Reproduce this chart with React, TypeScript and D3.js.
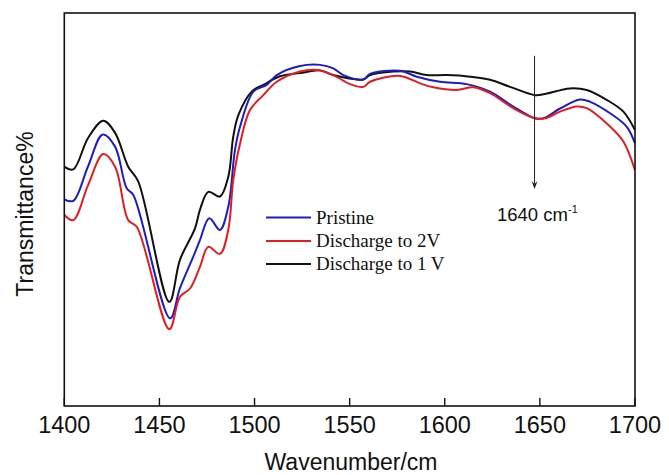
import React from "react";
import * as d3 from "d3";

// ---- data (wavenumber cm^-1, transmittance arbitrary units) ----
const blackWn = [1400, 1404.7, 1412.5, 1420.5, 1426.7, 1433.6, 1438.9, 1455.2, 1460.8, 1468.7, 1471.3, 1475.7, 1481.8, 1486.2, 1488.8, 1491.5, 1498.5, 1504.6, 1513.4, 1523.9, 1534.4, 1541.3, 1557.2, 1560.7, 1573.0, 1581.7, 1590.5, 1601.0, 1613.3, 1623.8, 1634.3, 1647.5, 1651.8, 1665.8, 1674.6, 1685.1, 1693.9, 1700];
const blackT = [60.9, 60.2, 68.2, 72.6, 69.5, 60.9, 57.1, 26.5, 37.2, 45.2, 49.9, 54.5, 53.3, 58.3, 68.5, 74.0, 80.0, 81.7, 83.9, 84.7, 85.4, 84.2, 83.1, 84.2, 85.1, 85.1, 84.2, 84.2, 83.8, 83.0, 81.2, 79.1, 79.3, 80.8, 80.4, 77.9, 74.9, 70.2];

const blueWn = [1400, 1404.7, 1412.5, 1420.2, 1426.7, 1432.8, 1436.3, 1455.6, 1460.8, 1467.8, 1471.3, 1476.2, 1481.8, 1486.2, 1489.7, 1492.4, 1499.4, 1506.4, 1511.7, 1523.9, 1534.4, 1541.4, 1546.7, 1557.2, 1560.7, 1576.5, 1585.3, 1597.5, 1611.5, 1623.8, 1636.0, 1647.5, 1651.8, 1660.6, 1671.1, 1676.4, 1686.9, 1695.6, 1700];
const blueT = [52.6, 52.2, 61.0, 69.1, 66.0, 55.4, 53.7, 22.3, 30.0, 38.0, 42.2, 47.8, 44.8, 50.7, 65.1, 71.1, 80.0, 81.7, 84.2, 86.5, 86.8, 85.9, 84.2, 83.1, 84.5, 85.3, 83.8, 82.5, 81.9, 80.0, 76.2, 73.2, 73.2, 75.7, 78.0, 77.4, 74.5, 71.1, 66.8];

const redWn = [1400, 1404.7, 1412.5, 1420.5, 1426.7, 1433.6, 1438.1, 1455.2, 1460.8, 1466.1, 1471.3, 1475.7, 1481.8, 1486.2, 1488.8, 1492.4, 1497.6, 1504.6, 1511.7, 1523.9, 1532.7, 1541.4, 1550.2, 1557.2, 1560.7, 1576.5, 1587.0, 1594.0, 1606.3, 1615.0, 1623.8, 1636.0, 1647.5, 1652.7, 1660.6, 1669.4, 1674.6, 1686.9, 1693.9, 1700];
const redT = [48.6, 47.3, 56.2, 64.1, 60.9, 47.3, 45.6, 19.5, 27.8, 29.9, 35.4, 40.5, 38.7, 44.8, 57.5, 66.8, 75.3, 79.1, 82.5, 85.1, 85.5, 84.2, 81.9, 81.2, 82.5, 84.0, 82.1, 81.1, 80.4, 81.1, 79.6, 75.8, 73.2, 73.2, 74.9, 76.2, 75.8, 71.1, 67.3, 60.0];

const seriesNames = ["Pristine", "Discharge to 2V", "Discharge to 1 V"];
const seriesColors = ["#1c1cc8", "#e51b1f", "#111111"];
const xTicks = [1400, 1450, 1500, 1550, 1600, 1650, 1700];
const arrowWn = 1647.2;
const arrowTop = 89.1;
const arrowBottom = 55.2;
const annotationText = "1640 cm";

const W = 669, H = 475;
const M = { left: 64.3, right: 635, top: 13, bottom: 406 };

export default function App() {
  const x = d3.scaleLinear().domain([1400, 1700]).range([M.left, M.right]);
  const y = d3.scaleLinear().domain([0, 100]).range([M.bottom, M.top]);
  const line = d3
    .line<[number, number]>()
    .x((d) => x(d[0]))
    .y((d) => y(d[1]))
    .curve(d3.curveCatmullRom.alpha(0.5));

  const series = [
    { wn: blueWn, t: blueT },
    { wn: redWn, t: redT },
    { wn: blackWn, t: blackT },
  ];
  const drawOrder = [2, 0, 1];

  const legendX1 = 266, legendX2 = 311, legendTextX = 316;
  const legendY = [217.5, 241, 264];

  const ax = x(arrowWn);
  const ayTop = y(arrowTop);
  const ayBot = y(arrowBottom);

  return (
    <svg
      width={W}
      height={H}
      style={{ position: "absolute", left: 0, top: 0, background: "#fff" }}
    >
      <rect x={0} y={0} width={W} height={H} fill="#fff" />
      {drawOrder.map((i) => {
        const s = series[i];
        const pts = s.wn.map((w, k) => [w, s.t[k]] as [number, number]);
        return (
          <path
            key={i}
            d={line(pts) || ""}
            fill="none"
            stroke={seriesColors[i]}
            strokeWidth={2}
            strokeLinejoin="round"
          />
        );
      })}
      <rect
        x={M.left}
        y={M.top}
        width={M.right - M.left}
        height={M.bottom - M.top}
        fill="none"
        stroke="#111"
        strokeWidth={1.6}
      />
      {xTicks.map((t) => (
        <g key={t}>
          <line x1={x(t)} x2={x(t)} y1={M.bottom} y2={M.bottom - 8} stroke="#111" strokeWidth={1.4} />
          <text
            x={x(t)}
            y={433}
            textAnchor="middle"
            fontFamily="'Liberation Sans', Arial, sans-serif"
            fontSize={23.5}
            fill="#111"
          >
            {t}
          </text>
        </g>
      ))}
      <text
        x={351}
        y={470}
        textAnchor="middle"
        fontFamily="'Liberation Sans', Arial, sans-serif"
        fontSize={23}
        fill="#111"
      >
        Wavenumber/cm
      </text>
      <text
        transform={`translate(33,214) rotate(-90)`}
        textAnchor="middle"
        fontFamily="'Liberation Sans', Arial, sans-serif"
        fontSize={23}
        fill="#111"
      >
        Transmittance%
      </text>
      {seriesNames.map((n, i) => (
        <g key={n}>
          <line x1={legendX1} x2={legendX2} y1={legendY[i]} y2={legendY[i]} stroke={seriesColors[i]} strokeWidth={2} />
          <text
            x={legendTextX}
            y={legendY[i] + 6}
            fontFamily="'Liberation Serif', 'Times New Roman', serif"
            fontSize={19}
            fill="#111"
          >
            {n}
          </text>
        </g>
      ))}
      <line x1={ax} x2={ax} y1={ayTop} y2={ayBot - 2} stroke="#222" strokeWidth={1} />
      <path
        d={`M${ax - 3},${ayBot - 8} L${ax},${ayBot} L${ax + 3},${ayBot - 8} L${ax},${ayBot - 5} Z`}
        fill="#222"
      />
      <text
        x={497}
        y={221}
        fontFamily="'Liberation Sans', Arial, sans-serif"
        fontSize={18.5}
        fill="#111"
      >
        {annotationText}
        <tspan dy={-8} fontSize={11}>-1</tspan>
      </text>
    </svg>
  );
}
